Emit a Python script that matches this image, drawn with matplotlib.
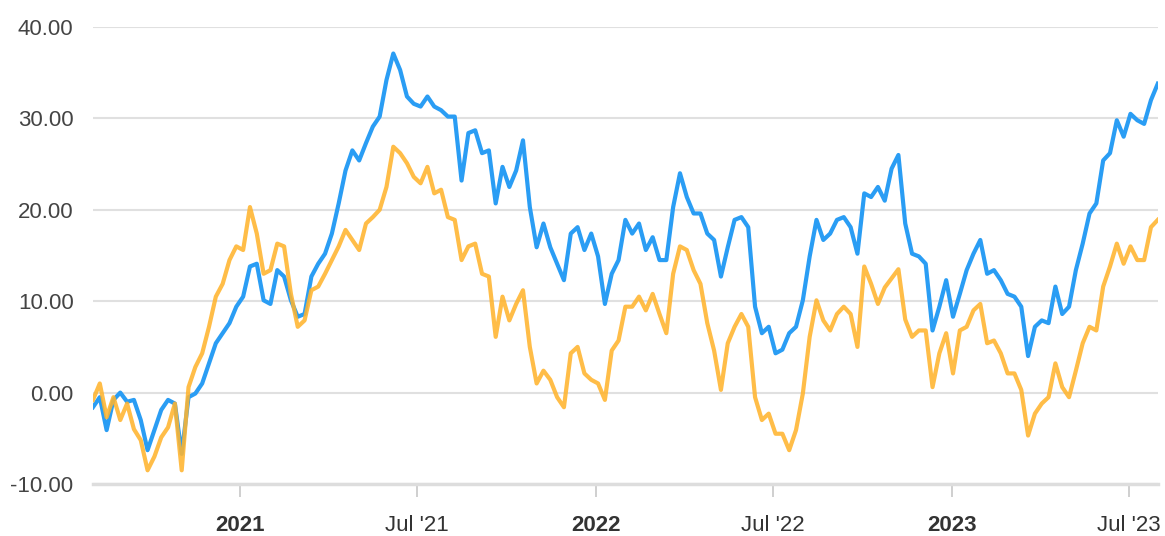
import numpy as np
import pandas as pd
import matplotlib
matplotlib.use("Agg")
from matplotlib import pyplot as plt

plt.rcParams['font.family'] = ['Liberation Sans', 'DejaVu Sans']

# weekly values, Aug 2020 - Jul 2023
dates = pd.date_range("2020-08-03", periods=157, freq="7D")

blue = [-1.6, -0.5, -4.1, -0.8, 0.0, -1.0, -0.8, -3.0, -6.3, -4.1,
        -1.9, -0.8, -1.2, -6.7, -0.5, -0.1, 1.0, 3.2, 5.4, 6.5,
        7.6, 9.4, 10.5, 13.8, 14.1, 10.1, 9.7, 13.4, 12.7, 10.1,
        8.3, 8.6, 12.7, 14.1, 15.2, 17.4, 20.7, 24.3, 26.5, 25.4,
        27.3, 29.1, 30.2, 34.2, 37.1, 35.3, 32.4, 31.6, 31.3, 32.4,
        31.3, 30.9, 30.2, 30.2, 23.2, 28.4, 28.7, 26.2, 26.5, 20.7,
        24.7, 22.5, 24.3, 27.6, 20.3, 15.9, 18.5, 15.9, 14.1, 12.3,
        17.4, 18.1, 15.6, 17.4, 14.9, 9.7, 13.0, 14.5, 18.9, 17.4,
        18.5, 15.6, 17.0, 14.5, 14.5, 20.3, 24.0, 21.4, 19.6, 19.6,
        17.4, 16.7, 12.7, 15.9, 18.9, 19.2, 18.1, 9.4, 6.5, 7.2,
        4.3, 4.7, 6.5, 7.2, 10.1, 14.9, 18.9, 16.7, 17.4, 18.9,
        19.2, 18.1, 15.2, 21.8, 21.4, 22.5, 21.0, 24.5, 26.0, 18.5,
        15.2, 14.9, 14.1, 6.8, 9.4, 12.3, 8.3, 10.8, 13.4, 15.2,
        16.7, 13.0, 13.4, 12.3, 10.8, 10.5, 9.4, 4.0, 7.2, 7.9,
        7.6, 11.6, 8.6, 9.4, 13.4, 16.3, 19.6, 20.7, 25.4, 26.2,
        29.8, 28.0, 30.5, 29.8, 29.4, 32.0, 33.8]

orange = [-0.8, 1.0, -2.7, -0.5, -3.0, -1.2, -4.0, -5.2, -8.5, -7.0,
          -4.9, -3.8, -1.2, -8.5, 0.6, 2.8, 4.3, 7.2, 10.5, 11.9,
          14.5, 16.0, 15.6, 20.3, 17.4, 13.0, 13.4, 16.3, 16.0, 10.8,
          7.2, 7.9, 11.2, 11.6, 13.0, 14.5, 16.0, 17.8, 16.7, 15.6,
          18.5, 19.2, 20.0, 22.5, 26.9, 26.2, 25.1, 23.6, 22.9, 24.7,
          21.8, 22.2, 19.2, 18.9, 14.5, 16.0, 16.3, 13.0, 12.7, 6.1,
          10.5, 7.9, 9.7, 11.2, 5.0, 1.0, 2.4, 1.4, -0.5, -1.6,
          4.3, 5.0, 2.1, 1.4, 1.0, -0.8, 4.6, 5.7, 9.4, 9.4,
          10.5, 9.0, 10.8, 8.6, 6.5, 13.0, 16.0, 15.6, 13.4, 11.9,
          7.6, 4.6, 0.3, 5.4, 7.2, 8.6, 7.2, -0.5, -3.0, -2.3,
          -4.5, -4.5, -6.3, -4.1, -0.1, 6.1, 10.1, 7.9, 6.8, 8.6,
          9.4, 8.6, 5.0, 13.8, 11.9, 9.7, 11.5, 12.5, 13.5, 8.0,
          6.1, 6.8, 6.8, 0.6, 4.3, 6.5, 2.1, 6.8, 7.2, 9.0,
          9.7, 5.4, 5.7, 4.3, 2.1, 2.1, 0.3, -4.7, -2.3, -1.2,
          -0.5, 3.2, 0.6, -0.5, 2.4, 5.4, 7.2, 6.8, 11.6, 13.8,
          16.3, 14.1, 16.0, 14.5, 14.5, 18.1, 18.9]

yticks = [-10, 0, 10, 20, 30, 40]
xticks = ["2021-01-01", "2021-07-01", "2022-01-01", "2022-07-01",
          "2023-01-01", "2023-07-01"]
xlabels = ["2021", "Jul '21", "2022", "Jul '22", "2023", "Jul '23"]

fig = plt.figure(figsize=(11.65, 5.36), dpi=100)
ax = fig.add_axes([0.0798, 0.097, 0.914, 0.8526])

ax.plot(dates, blue, color='#2A9DF4', lw=3.0, zorder=3)
ax.plot(dates, orange, color='#FFB42E', lw=3.0, alpha=0.88, zorder=4)

ax.set_ylim(-10, 40)
ax.set_xlim(dates[0], dates[-1])
ax.set_yticks(yticks)
ax.set_yticklabels(["%.2f" % v for v in yticks])
ax.yaxis.grid(True, color='#e0e0e0', lw=1.5)
ax.set_axisbelow(True)
ax.tick_params(axis='y', length=0, pad=14, labelsize=16, labelcolor='#444444')

ax.set_xticks(pd.to_datetime(xticks))
ax.set_xticklabels(xlabels)
ax.tick_params(axis='x', length=9, width=1.3, color='#cccccc', pad=13,
               labelsize=16, labelcolor='#333333')
for lab in ax.get_xticklabels():
    if "'" not in lab.get_text():
        lab.set_fontweight('bold')

for s in ['top', 'right', 'left']:
    ax.spines[s].set_visible(False)
ax.spines['bottom'].set_color('#dddddd')
ax.spines['bottom'].set_linewidth(2.5)

plt.savefig("out.png", dpi=100)
